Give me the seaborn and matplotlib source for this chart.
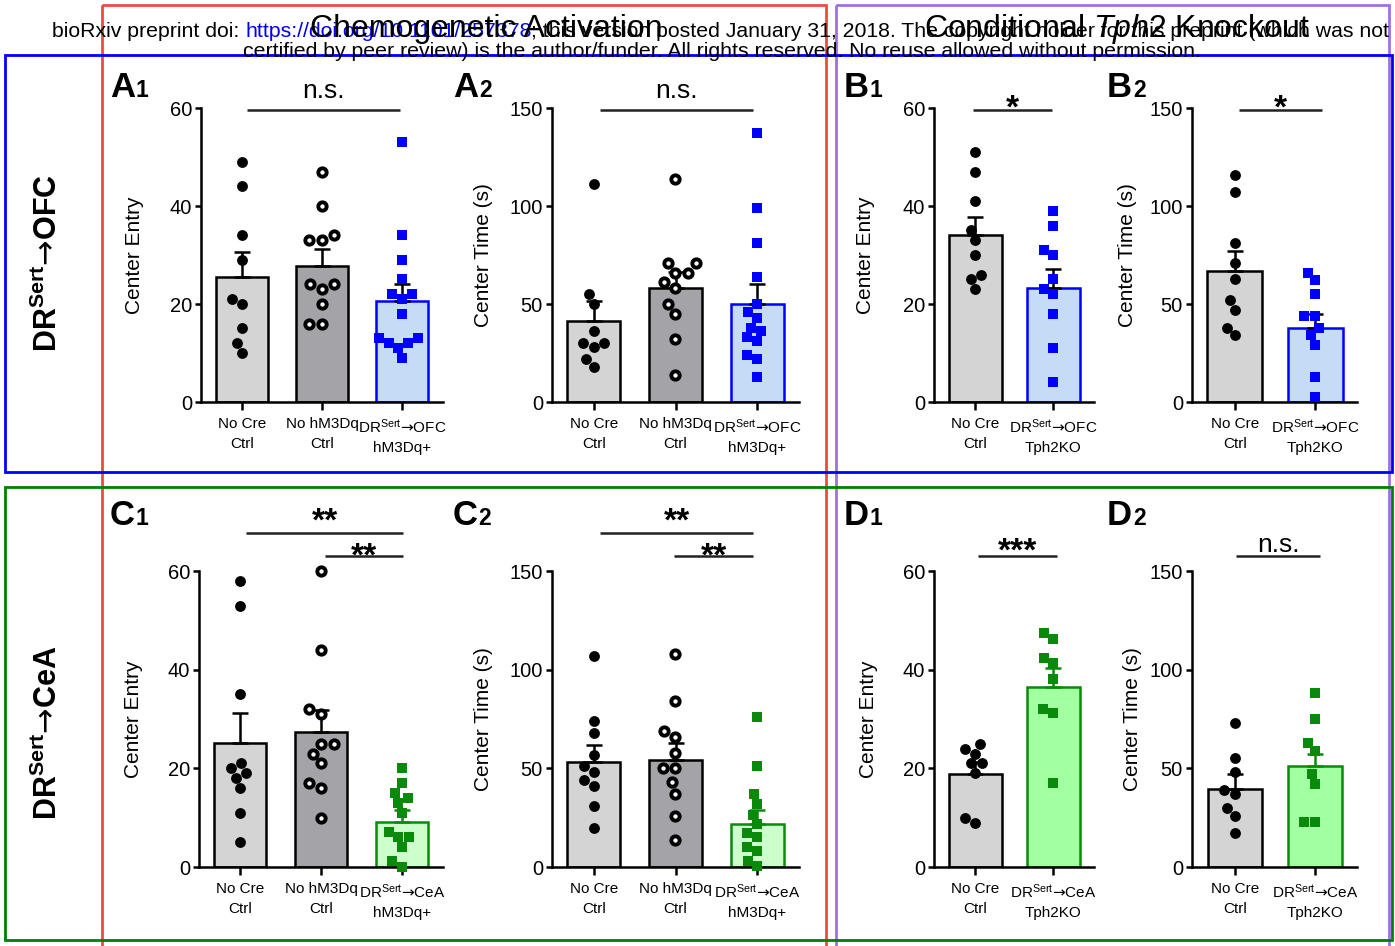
import numpy as np
import matplotlib
matplotlib.use("Agg")
import matplotlib.pyplot as plt
import seaborn as sns
from matplotlib.patches import Rectangle

sns.set_theme(style="ticks")
plt.rcParams['font.family'] = ['Liberation Sans', 'DejaVu Sans']
plt.rcParams['mathtext.fontset'] = 'custom'
plt.rcParams['mathtext.rm'] = 'Liberation Sans'
plt.rcParams['mathtext.it'] = 'Liberation Sans:italic'
plt.rcParams['mathtext.bf'] = 'Liberation Sans:bold'
plt.rcParams['mathtext.sf'] = 'DejaVu Sans'
for k in ['text.color', 'axes.labelcolor', 'xtick.color', 'ytick.color', 'axes.edgecolor']:
    plt.rcParams[k] = 'black'

# ---- data ----
act_ofc_labels = ["No Cre\nCtrl", "No hM3Dq\nCtrl", "$\\mathrm{DR^{Sert}}\\mathsf{→}\\mathrm{OFC}$\nhM3Dq+"]
act_cea_labels = ["No Cre\nCtrl", "No hM3Dq\nCtrl", "$\\mathrm{DR^{Sert}}\\mathsf{→}\\mathrm{CeA}$\nhM3Dq+"]
ko_ofc_labels = ["No Cre\nCtrl", "$\\mathrm{DR^{Sert}}\\mathsf{→}\\mathrm{OFC}$\nTph2KO"]
ko_cea_labels = ["No Cre\nCtrl", "$\\mathrm{DR^{Sert}}\\mathsf{→}\\mathrm{CeA}$\nTph2KO"]

a1_nocre = [49, 44, 34, 29, 21, 20, 15, 12, 10]
a1_nohm3dq = [47, 40, 34, 33, 33, 24, 24, 23, 20, 16, 16]
a1_ofc = [53, 34, 29, 25, 22, 22, 21, 18, 13, 13, 12, 12, 11, 9]
a1_mean = [25.6, 27.7, 20.7]
a1_sem = [5.0, 3.5, 3.4]

a2_nocre = [111, 55, 50, 36, 30, 30, 28, 22, 18]
a2_nohm3dq = [114, 71, 71, 66, 66, 61, 58, 50, 45, 32, 14]
a2_ofc = [137, 99, 81, 64, 50, 46, 43, 38, 36, 33, 31, 24, 22, 13]
a2_mean = [41.4, 58.0, 49.8]
a2_sem = [10.3, 8.4, 10.4]

b1_nocre = [51, 47, 41, 35, 33, 30, 26, 25, 23]
b1_ko = [39, 36, 31, 30, 25, 23, 22, 18, 11, 4]
b1_mean = [34.0, 23.3]
b1_sem = [3.8, 3.8]

b2_nocre = [116, 107, 81, 71, 63, 52, 47, 38, 34]
b2_ko = [66, 62, 55, 44, 44, 38, 34, 29, 13, 2.5]
b2_mean = [66.6, 37.6]
b2_sem = [10.4, 7.3]

c1_nocre = [58, 53, 35, 21, 20, 19, 18, 16, 11, 5]
c1_nohm3dq = [60, 44, 32, 31, 25, 25, 23, 21, 17, 16, 10]
c1_cea = [20, 17, 15, 14, 13, 11, 7, 6, 6, 4, 1.2, 0.1]
c1_mean = [25.2, 27.3, 9.2]
c1_sem = [6.0, 4.6, 2.3]

c2_nocre = [107, 74, 68, 57, 51, 48, 44, 41, 31, 20]
c2_nohm3dq = [108, 84, 69, 66, 58, 50, 50, 43, 37, 26, 13.5]
c2_cea = [76, 51, 37, 32, 26.5, 21.6, 17, 15, 10, 8, 3, 0.5]
c2_mean = [53.1, 54.0, 21.6]
c2_sem = [8.8, 8.9, 7.1]

d1_nocre = [25, 24, 23, 21, 21, 19, 10, 9]
d1_ko = [47.5, 46.3, 42.3, 41.3, 38.2, 32.1, 31.3, 17.1]
d1_mean = [18.8, 36.5]
d1_sem = [2.5, 3.8]

d2_nocre = [73, 55, 48, 39, 37, 30, 26, 17]
d2_ko = [88, 75, 63, 59, 47, 42, 23, 23]
d2_mean = [39.6, 51.4]
d2_sem = [7.3, 5.9]

# ---- styles ----
LGRAY, DGRAY = '#d4d4d4', '#a3a3a8'
BLUE_F, BLUE = '#c6dcf6', '#0000ff'
GREEN_C, GREEN_D, GREEN = '#ccffcc', '#a2ffa2', '#0a8a0a'

filled = dict(marker='o', color='black', size=7.8, linewidth=0)
hollow = dict(marker='o', color='white', edgecolor='black', linewidth=2.8, size=6.0)
blue_sq = dict(marker='s', color=BLUE, size=7.5, linewidth=0)
green_sq = dict(marker='s', color=GREEN, size=7.5, linewidth=0)

W, H = 1395, 946
fig = plt.figure(figsize=(W / 100, H / 100), dpi=100)


def rect(l, t, r, b):
    return [l / W, 1 - b / H, (r - l) / W, (b - t) / H]


def panel(box, labels, pts, means, sems, fills, edges, errc, styles,
          ymax, yticks, ylabel, width, xlim, lab_px):
    ax = fig.add_axes(rect(*box))
    n = len(labels)
    sns.barplot(x=labels, y=means, hue=labels, order=labels, hue_order=labels,
                palette=fills, width=width, saturation=1, linewidth=1.8,
                edgecolor='black', legend=False, ax=ax)
    for p, ec in zip(ax.patches, edges):
        p.set_edgecolor(ec)
    for i in range(n):
        ax.errorbar([i], [means[i]], yerr=[[0], [sems[i]]], fmt='none',
                    ecolor=errc[i], elinewidth=1.8, capsize=5.5, capthick=1.8,
                    zorder=2)
    for i, (vals, st) in enumerate(zip(pts, styles)):
        sns.swarmplot(x=[labels[i]] * len(vals), y=vals, order=labels, ax=ax, **st)
    for c in ax.collections:
        c.set_zorder(3)
        c.set_clip_on(False)
    ax.set_xlim(*xlim)
    ax.set_ylim(0, ymax)
    ax.set_yticks(yticks)
    ax.set_xticks(range(n))
    ax.set_xticklabels(labels, fontsize=11.0, linespacing=1.5)
    ax.set_xlabel('')
    ax.set_ylabel(ylabel, fontsize=15)
    ax.yaxis.set_label_coords(lab_px / (box[2] - box[0]), 0.5)
    sns.despine(ax=ax)
    for s in ['left', 'bottom']:
        ax.spines[s].set_linewidth(1.8)
    ax.tick_params(axis='y', length=4.5, width=1.8, labelsize=14.5, pad=2)
    ax.tick_params(axis='x', length=6, width=1.8, pad=5)
    ax.set_facecolor('none')
    return ax


def sig(ax, x0, x1, yl, text, yt, fs, bold=False):
    tr = ax.get_xaxis_transform()
    ax.plot([x0, x1], [yl, yl], color='#222222', lw=1.8, transform=tr,
            clip_on=False, solid_capstyle='butt')
    ax.text((x0 + x1) / 2, yt, text, ha='center', va='baseline', transform=tr,
            fontsize=fs, weight='bold' if bold else 'normal')


three = (-0.51, 2.51)
two = (-0.53, 1.52)

ax = panel((201, 108, 443, 402), act_ofc_labels, [a1_nocre, a1_nohm3dq, a1_ofc],
           a1_mean, a1_sem, [LGRAY, DGRAY, BLUE_F], ['black', 'black', BLUE],
           ['black', 'black', 'black'], [filled, hollow, blue_sq],
           60, [0, 20, 40, 60], 'Center Entry', 0.65, three, -57)
sig(ax, 0.06, 1.97, 0.993, 'n.s.', 1.034, 19)

ax = panel((552, 108, 799, 402), act_ofc_labels, [a2_nocre, a2_nohm3dq, a2_ofc],
           a2_mean, a2_sem, [LGRAY, DGRAY, BLUE_F], ['black', 'black', BLUE],
           ['black', 'black', 'black'], [filled, hollow, blue_sq],
           150, [0, 50, 100, 150], 'Center Time (s)', 0.65, three, -59)
sig(ax, 0.08, 1.95, 0.993, 'n.s.', 1.034, 19)

ax = panel((934, 108, 1094, 402), ko_ofc_labels, [b1_nocre, b1_ko],
           b1_mean, b1_sem, [LGRAY, BLUE_F], ['black', BLUE],
           ['black', 'black'], [filled, blue_sq],
           60, [0, 20, 40, 60], 'Center Entry', 0.68, two, -59)
sig(ax, -0.03, 0.98, 0.993, '*', 0.969, 24, True)

ax = panel((1192, 108, 1357, 402), ko_ofc_labels, [b2_nocre, b2_ko],
           b2_mean, b2_sem, [LGRAY, BLUE_F], ['black', BLUE],
           ['black', 'black'], [filled, blue_sq],
           150, [0, 50, 100, 150], 'Center Time (s)', 0.68, two, -55)
sig(ax, 0.05, 1.08, 0.993, '*', 0.969, 24, True)

ax = panel((199, 571, 443, 867), act_cea_labels, [c1_nocre, c1_nohm3dq, c1_cea],
           c1_mean, c1_sem, [LGRAY, DGRAY, GREEN_C], ['black', 'black', GREEN],
           ['black', 'black', GREEN], [filled, hollow, green_sq],
           60, [0, 20, 40, 60], 'Center Entry', 0.64, three, -56)
sig(ax, 0.07, 2.02, 1.128, '**', 1.135, 24, True)
sig(ax, 1.05, 2.02, 1.051, '**', 1.020, 24, True)

ax = panel((552, 571, 799, 867), act_cea_labels, [c2_nocre, c2_nohm3dq, c2_cea],
           c2_mean, c2_sem, [LGRAY, DGRAY, GREEN_C], ['black', 'black', GREEN],
           ['black', 'black', GREEN], [filled, hollow, green_sq],
           150, [0, 50, 100, 150], 'Center Time (s)', 0.65, three, -59)
sig(ax, 0.08, 1.95, 1.128, '**', 1.135, 24, True)
sig(ax, 0.98, 1.95, 1.051, '**', 1.020, 24, True)

ax = panel((934, 571, 1094, 867), ko_cea_labels, [d1_nocre, d1_ko],
           d1_mean, d1_sem, [LGRAY, GREEN_D], ['black', GREEN],
           ['black', GREEN], [filled, green_sq],
           60, [0, 20, 40, 60], 'Center Entry', 0.67, two, -56)
sig(ax, 0.03, 1.05, 1.051, '***', 1.034, 24, True)

ax = panel((1192, 571, 1357, 867), ko_cea_labels, [d2_nocre, d2_ko],
           d2_mean, d2_sem, [LGRAY, GREEN_D], ['black', GREEN],
           ['black', GREEN], [filled, green_sq],
           150, [0, 50, 100, 150], 'Center Time (s)', 0.67, two, -50)
sig(ax, 0.02, 1.06, 1.051, 'n.s.', 1.064, 19)

# ---- overlay: boxes, header, titles, letters ----
ov = fig.add_axes([0, 0, 1, 1], zorder=5)
ov.set_xlim(0, W)
ov.set_ylim(H, 0)
ov.axis('off')

ov.add_patch(Rectangle((102, 5), 724, 960, fill=False, ec='#ee4a40', lw=2))
ov.add_patch(Rectangle((836, 5), 553, 960, fill=False, ec='#a070e0', lw=2))
ov.add_patch(Rectangle((5, 55), 1387, 417, fill=False, ec='#0000ff', lw=2))
ov.add_patch(Rectangle((5, 487), 1387, 453, fill=False, ec='#008000', lw=2))

hf = dict(fontsize=15.3)
t1 = ov.text(52, 37, "bioRxiv preprint doi:", va='baseline', **hf)
t2 = ov.annotate("https://doi.org/10.1101/257378", xy=(1, 0), xycoords=t1,
                 xytext=(4.2, 0), textcoords='offset points',
                 va='bottom', ha='left', color='#0000ee', **hf)
ov.annotate("; this version posted January 31, 2018. The copyright holder for this preprint (which was not",
            xy=(1, 0), xycoords=t2, va='bottom', ha='left', **hf)
ov.text(722, 57, "certified by peer review) is the author/funder. All rights reserved. "
        "No reuse allowed without permission.", ha='center', va='baseline', **hf)

ov.text(486, 37, "Chemogenetic Activation", ha='center', va='baseline', fontsize=23)
ov.text(1117, 37, "Conditional $\\mathit{Tph2}$ Knockout", ha='center', va='baseline',
        fontsize=23)

ov.text(48, 263, "$\\mathbf{DR^{Sert}}\\mathsf{→}\\mathbf{OFC}$", rotation=90,
        ha='center', va='center', fontsize=22)
ov.text(48, 733, "$\\mathbf{DR^{Sert}}\\mathsf{→}\\mathbf{CeA}$", rotation=90,
        ha='center', va='center', fontsize=22)

letters = [("A", "1", 110, 97), ("A", "2", 453, 97), ("B", "1", 844, 97), ("B", "2", 1107, 97),
           ("C", "1", 110, 525), ("C", "2", 453, 525), ("D", "1", 844, 525), ("D", "2", 1107, 525)]
for big, small, x, y in letters:
    t = ov.text(x, y, big, fontsize=25, weight='bold', va='baseline')
    ov.annotate(small, xy=(1, 0), xycoords=t, xytext=(0.5, 1.7), textcoords='offset points',
                va='bottom', ha='left', fontsize=16.5, weight='bold')

fig.savefig('out.png', dpi=100)
